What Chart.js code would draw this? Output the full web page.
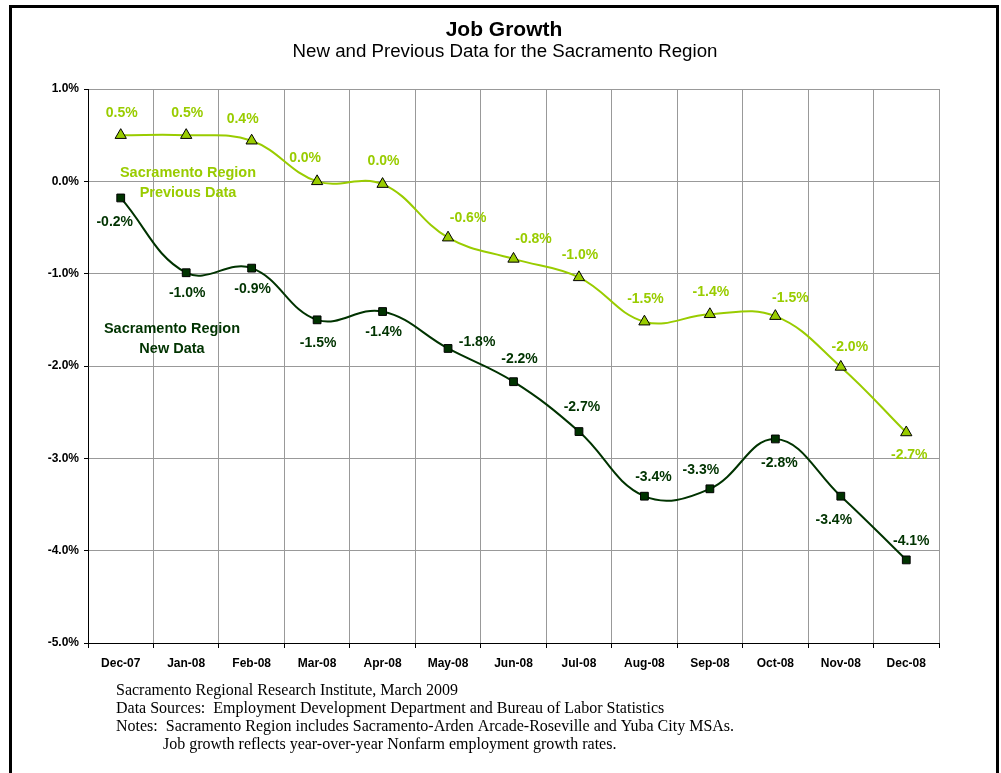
<!DOCTYPE html>
<html>
<head>
<meta charset="utf-8">
<script src="https://cdn.jsdelivr.net/npm/chart.js@4.4.1/dist/chart.umd.min.js"></script>
<style>
html,body{margin:0;padding:0;background:#fff;}
#wrap{position:relative;width:1001px;height:773px;}
canvas{display:block;}
</style>
</head>
<body>
<div id="wrap"><canvas id="c" width="1001" height="773"></canvas></div>
<script>
const categories = ['Dec-07','Jan-08','Feb-08','Mar-08','Apr-08','May-08','Jun-08','Jul-08','Aug-08','Sep-08','Oct-08','Nov-08','Dec-08'];
const previousData = [0.50, 0.50, 0.44, 0.00, -0.03, -0.61, -0.84, -1.04, -1.52, -1.44, -1.46, -2.01, -2.72];
const newData = [-0.18, -0.99, -0.94, -1.50, -1.41, -1.81, -2.17, -2.71, -3.41, -3.33, -2.79, -3.41, -4.10];
const yTicks = [1, 0, -1, -2, -3, -4, -5];
const titleText = 'Job Growth';
const subtitleText = 'New and Previous Data for the Sacramento Region';
const footnotes = [
  'Sacramento Regional Research Institute, March 2009',
  'Data Sources:  Employment Development Department and Bureau of Labor Statistics',
  'Notes:  Sacramento Region includes Sacramento-Arden Arcade-Roseville and Yuba City MSAs.',
  'Job growth reflects year-over-year Nonfarm employment growth rates.'
];
const prevName = ['Sacramento Region', 'Previous Data'];
const newName = ['Sacramento Region', 'New Data'];

// label placement offsets (pixels) relative to each point
const prevLabelOffsets = [[0,-22],[0,-22],[-10,-22],[-13,-23],[0,-23],[19,-20],[19,-20],[0,-22],[0,-23],[0,-22],[14,-18],[8,-20],[2,23]];
const newLabelOffsets = [[-7,24],[0,20],[0,21],[0,23],[0,21],[28,-6],[5,-23],[2,-24],[8,-19],[-10,-19],[3,24],[-8,24],[4,-19]];

const PREV_COLOR = '#99CC00';
const NEW_COLOR = '#003300';
const FONT = '"Liberation Sans", Arial, sans-serif';
const SERIF = '"Liberation Serif", "Times New Roman", serif';

function fmt(v){ return (Math.round(v*10)/10).toFixed(1) + '%'; }

const decor = {
  id: 'decor',
  beforeDraw(chart){
    const ctx = chart.ctx;
    ctx.save();
    ctx.fillStyle = '#fff';
    ctx.fillRect(0,0,chart.width,chart.height);
    ctx.strokeStyle = '#000';
    ctx.lineWidth = 3;
    ctx.beginPath();
    ctx.moveTo(10.5, 800);
    ctx.lineTo(10.5, 6.5);
    ctx.lineTo(997.5, 6.5);
    ctx.lineTo(997.5, 800);
    ctx.stroke();
    ctx.restore();
  },
  afterDraw(chart){
    const ctx = chart.ctx;
    ctx.save();
    ctx.textAlign = 'center';
    ctx.textBaseline = 'middle';
    ctx.fillStyle = '#000';
    ctx.font = 'bold 21px ' + FONT;
    ctx.fillText(titleText, 504, 30);
    ctx.font = '18.7px ' + FONT;
    ctx.fillText(subtitleText, 505, 52);

    ctx.font = 'bold 14.5px ' + FONT;
    ctx.fillStyle = PREV_COLOR;
    ctx.fillText(prevName[0], 188, 173);
    ctx.fillText(prevName[1], 188, 193);
    ctx.fillStyle = NEW_COLOR;
    ctx.fillText(newName[0], 172, 329);
    ctx.fillText(newName[1], 172, 349);

    const drawLabels = (dsIndex, values, offsets, color) => {
      const meta = chart.getDatasetMeta(dsIndex);
      ctx.fillStyle = color;
      ctx.font = 'bold 14px ' + FONT;
      meta.data.forEach((pt, i) => {
        ctx.fillText(fmt(values[i]), pt.x + offsets[i][0] + 1, pt.y + offsets[i][1]);
      });
    };
    drawLabels(0, previousData, prevLabelOffsets, PREV_COLOR);
    drawLabels(1, newData, newLabelOffsets, NEW_COLOR);

    ctx.textAlign = 'left';
    ctx.fillStyle = '#000';
    ctx.font = '16px ' + SERIF;
    ctx.fillText(footnotes[0], 116, 691);
    ctx.fillText(footnotes[1], 116, 709);
    ctx.fillText(footnotes[2], 116, 727);
    ctx.fillText(footnotes[3], 163, 745);
    ctx.restore();
  }
};

new Chart(document.getElementById('c'), {
  type: 'line',
  data: {
    labels: categories,
    datasets: [
      {
        label: 'Sacramento Region Previous Data',
        data: previousData,
        borderColor: PREV_COLOR,
        backgroundColor: PREV_COLOR,
        borderWidth: 2,
        tension: 0.4,
        pointStyle: 'triangle',
        pointRadius: 6.5,
        pointBorderColor: '#000',
        pointBorderWidth: 1,
        pointBackgroundColor: PREV_COLOR,
        fill: false
      },
      {
        label: 'Sacramento Region New Data',
        data: newData,
        borderColor: NEW_COLOR,
        backgroundColor: NEW_COLOR,
        borderWidth: 2,
        tension: 0.4,
        pointStyle: 'rect',
        pointRadius: 5.5,
        pointBorderColor: '#000',
        pointBorderWidth: 1,
        pointBackgroundColor: NEW_COLOR,
        fill: false
      }
    ]
  },
  options: {
    responsive: false,
    animation: false,
    devicePixelRatio: 1,
    layout: { padding: { top: 89, right: 62, left: 0, bottom: 0 } },
    plugins: {
      legend: { display: false },
      title: { display: false },
      tooltip: { enabled: false }
    },
    scales: {
      x: {
        type: 'category',
        offset: true,
        afterFit(scale){ scale.height = 130; },
        grid: {
          offset: true,
          color: '#999999',
          lineWidth: 1,
          drawTicks: true,
          tickLength: 5,
          tickColor: '#000'
        },
        border: { display: true, color: '#000', width: 1 },
        ticks: {
          color: '#000',
          font: { family: FONT, size: 12, weight: 'bold' },
          padding: 8,
          maxRotation: 0,
          autoSkip: false
        }
      },
      y: {
        min: -5,
        max: 1,
        afterFit(scale){ scale.width = 88; },
        afterBuildTicks(scale){ scale.ticks = yTicks.map(v => ({ value: v })); },
        grid: {
          color: '#999999',
          lineWidth: 1,
          drawTicks: true,
          tickLength: 4,
          tickColor: '#000'
        },
        border: { display: true, color: '#000', width: 1 },
        ticks: {
          color: '#000',
          font: { family: FONT, size: 12, weight: 'bold' },
          padding: 5,
          callback: (v) => Number(v).toFixed(1) + '%'
        }
      }
    }
  },
  plugins: [decor]
});
</script>
</body>
</html>
